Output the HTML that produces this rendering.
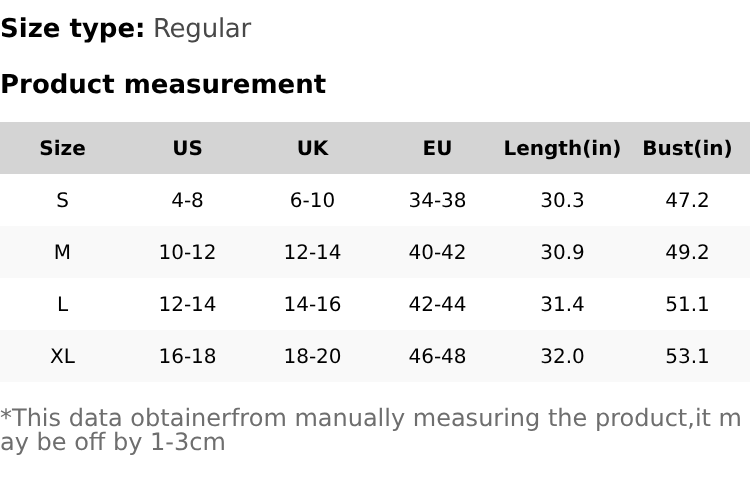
<!DOCTYPE html>
<html><head><meta charset="utf-8">
<style>
html,body{margin:0;padding:0;background:#fff;}
body{width:750px;height:478px;overflow:hidden;font-family:"DejaVu Sans","Liberation Sans",sans-serif;color:#000;text-rendering:geometricPrecision;}
.st{position:absolute;left:0;top:13px;font-size:26px;line-height:32px;font-weight:bold;white-space:nowrap;}
.st span{font-weight:normal;color:#484848;letter-spacing:-0.23px;margin-left:-0.6px;}
.pm{position:absolute;left:0;top:69px;font-size:26px;line-height:32px;font-weight:bold;white-space:nowrap;}
table{position:absolute;left:0;top:122px;width:750px;border-collapse:collapse;table-layout:fixed;}
th,td{height:52px;padding:0;text-align:center;font-size:20px;white-space:nowrap;}
th{font-weight:bold;background:#d4d4d4;}
tr:nth-child(odd) td{background:#f9f9f9;}
.note{position:absolute;left:0;top:406px;width:750px;font-size:24px;line-height:24px;color:#6e6e6e;word-break:break-all;}
</style></head><body>
<div class="st">Size type:<span> Regular</span></div>
<div class="pm">Product measurement</div>
<table>
<tr><th>Size</th><th>US</th><th>UK</th><th>EU</th><th>Length(in)</th><th>Bust(in)</th></tr>
<tr><td>S</td><td>4-8</td><td>6-10</td><td>34-38</td><td>30.3</td><td>47.2</td></tr>
<tr><td>M</td><td>10-12</td><td>12-14</td><td>40-42</td><td>30.9</td><td>49.2</td></tr>
<tr><td>L</td><td>12-14</td><td>14-16</td><td>42-44</td><td>31.4</td><td>51.1</td></tr>
<tr><td>XL</td><td>16-18</td><td>18-20</td><td>46-48</td><td>32.0</td><td>53.1</td></tr>
</table>
<div class="note">*This data obtainerfrom manually measuring the product,it may be off by 1-3cm</div>
</body></html>
